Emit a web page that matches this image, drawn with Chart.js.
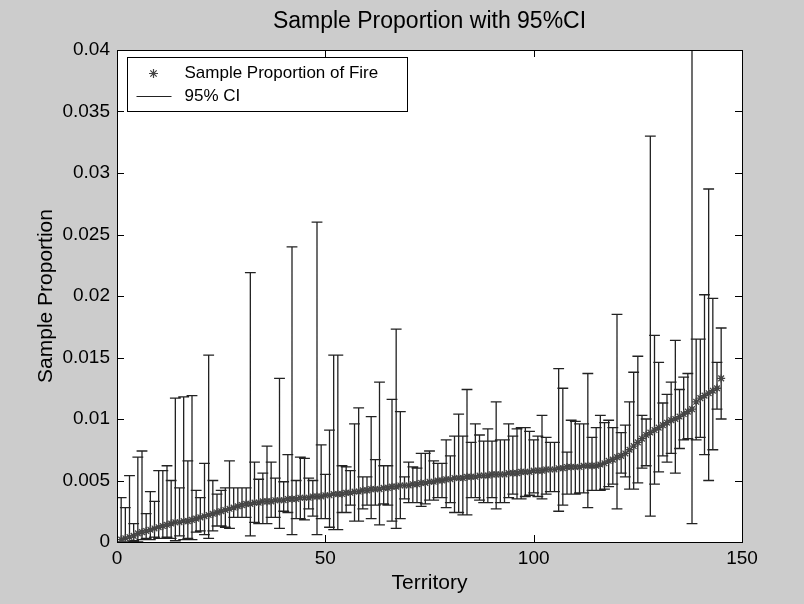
<!DOCTYPE html>
<html>
<head>
<meta charset="utf-8">
<title>Sample Proportion with 95%CI</title>
<script src="https://cdn.jsdelivr.net/npm/chart.js@4.4.1/dist/chart.umd.min.js"></script>
<style>
    html, body { margin: 0; padding: 0; background: #cccccc; }
    canvas { display: block; }
</style>
</head>
<body>
<canvas id="ciChart" width="804" height="604"></canvas>
<script>
"use strict"

// sample proportion of fire per territory (sorted)
const proportion = [
    0.0002, 0.0003, 0.0004, 0.0005, 0.0007, 0.0008, 0.0009, 0.0010, 0.0011, 0.0012,
    0.0013, 0.0014, 0.0015, 0.0016, 0.0016, 0.0017, 0.0017, 0.0018, 0.0019, 0.0020,
    0.0021, 0.0022, 0.0023, 0.0024, 0.0025, 0.0026, 0.0027, 0.0028, 0.0029, 0.0030,
    0.0031, 0.0031, 0.0032, 0.0032, 0.0033, 0.0033, 0.0033, 0.0034, 0.0034, 0.0034,
    0.0035, 0.0035, 0.0035, 0.0036, 0.0036, 0.0036, 0.0037, 0.0037, 0.0037, 0.0038,
    0.0038, 0.0039, 0.0039, 0.0039, 0.0040, 0.0040, 0.0041, 0.0041, 0.0042, 0.0042,
    0.0043, 0.0043, 0.0043, 0.0044, 0.0044, 0.0045, 0.0045, 0.0046, 0.0046, 0.0046,
    0.0047, 0.0047, 0.0048, 0.0048, 0.0049, 0.0049, 0.0050, 0.0050, 0.0051, 0.0051,
    0.0052, 0.0052, 0.0052, 0.0053, 0.0053, 0.0053, 0.0054, 0.0054, 0.0054, 0.0055,
    0.0055, 0.0055, 0.0055, 0.0056, 0.0056, 0.0056, 0.0057, 0.0057, 0.0057, 0.0058,
    0.0058, 0.0058, 0.0059, 0.0059, 0.0059, 0.0060, 0.0060, 0.0061, 0.0061, 0.0061,
    0.0061, 0.0062, 0.0062, 0.0062, 0.0062, 0.0063, 0.0064, 0.0066, 0.0067, 0.0069,
    0.0070, 0.0072, 0.0075, 0.0078, 0.0081, 0.0084, 0.0087, 0.0089, 0.0091, 0.0093,
    0.0095, 0.0097, 0.0099, 0.0100, 0.0102, 0.0104, 0.0106, 0.0108, 0.0114, 0.0117,
    0.0119, 0.0121, 0.0123, 0.0125, 0.0133
];

const ciLower = [
    0.0000, 0.0000, 0.0000, 0.0001, 0.0000, 0.0002, 0.0003, 0.0002, 0.0004, 0.0003,
    0.0003, 0.0004, 0.0003, 0.0001, 0.0005, 0.0002, 0.0003, 0.0002, 0.0008, 0.0009,
    0.0006, 0.0003, 0.0009, 0.0013, 0.0013, 0.0012, 0.0011, 0.0020, 0.0020, 0.0020,
    0.0020, 0.0005, 0.0016, 0.0015, 0.0015, 0.0015, 0.0020, 0.0020, 0.0011, 0.0025,
    0.0024, 0.0006, 0.0019, 0.0019, 0.0018, 0.0027, 0.0021, 0.0006, 0.0019, 0.0019,
    0.0012, 0.0010, 0.0010, 0.0024, 0.0024, 0.0030, 0.0017, 0.0017, 0.0027, 0.0030,
    0.0019, 0.0030, 0.0014, 0.0031, 0.0030, 0.0017, 0.0011, 0.0019, 0.0035, 0.0032,
    0.0032, 0.0032, 0.0029, 0.0031, 0.0034, 0.0034, 0.0036, 0.0036, 0.0028, 0.0032,
    0.0024, 0.0024, 0.0022, 0.0022, 0.0036, 0.0036, 0.0034, 0.0032, 0.0032, 0.0036,
    0.0027, 0.0032, 0.0032, 0.0036, 0.0039, 0.0035, 0.0035, 0.0037, 0.0038, 0.0040,
    0.0037, 0.0035, 0.0039, 0.0041, 0.0041, 0.0025, 0.0030, 0.0039, 0.0039, 0.0039,
    0.0040, 0.0040, 0.0028, 0.0042, 0.0042, 0.0042, 0.0043, 0.0045, 0.0047, 0.0027,
    0.0056, 0.0053, 0.0043, 0.0043, 0.0048, 0.0060, 0.0062, 0.0021, 0.0047, 0.0057,
    0.0070, 0.0065, 0.0072, 0.0056, 0.0076, 0.0083, 0.0084, 0.0015, 0.0083, 0.0085,
    0.0071, 0.0050, 0.0075, 0.0108, 0.0100
];

const ciUpper = [
    0.0036, 0.0028, 0.0054, 0.0015, 0.0069, 0.0074, 0.0023, 0.0041, 0.0033, 0.0058,
    0.0058, 0.0062, 0.0050, 0.0117, 0.0044, 0.0118, 0.0066, 0.0119, 0.0042, 0.0036,
    0.0064, 0.0152, 0.0050, 0.0039, 0.0042, 0.0044, 0.0066, 0.0044, 0.0044, 0.0044,
    0.0044, 0.0219, 0.0065, 0.0051, 0.0056, 0.0078, 0.0065, 0.0052, 0.0133, 0.0049,
    0.0071, 0.0240, 0.0050, 0.0069, 0.0068, 0.0052, 0.0050, 0.0260, 0.0079, 0.0055,
    0.0091, 0.0152, 0.0152, 0.0062, 0.0061, 0.0058, 0.0096, 0.0109, 0.0053, 0.0053,
    0.0102, 0.0067, 0.0130, 0.0062, 0.0062, 0.0116, 0.0173, 0.0106, 0.0053, 0.0065,
    0.0061, 0.0060, 0.0072, 0.0072, 0.0074, 0.0066, 0.0064, 0.0064, 0.0083, 0.0070,
    0.0086, 0.0104, 0.0086, 0.0124, 0.0081, 0.0096, 0.0087, 0.0082, 0.0092, 0.0082,
    0.0114, 0.0083, 0.0083, 0.0096, 0.0086, 0.0092, 0.0093, 0.0093, 0.0090, 0.0083,
    0.0086, 0.0103, 0.0085, 0.0081, 0.0081, 0.0141, 0.0125, 0.0073, 0.0099, 0.0098,
    0.0096, 0.0096, 0.0137, 0.0085, 0.0093, 0.0103, 0.0097, 0.0099, 0.0093, 0.0185,
    0.0089, 0.0095, 0.0114, 0.0138, 0.0151, 0.0103, 0.0100, 0.0330, 0.0168, 0.0146,
    0.0113, 0.0120, 0.0130, 0.0164, 0.0124, 0.0134, 0.0137, 0.0460, 0.0165, 0.0165,
    0.0201, 0.0287, 0.0198, 0.0146, 0.0174
];

const territories = proportion.map((p, k) => k + 1);
const xTicks = [0, 50, 100, 150];
const yTicks = [0, 0.005, 0.01, 0.015, 0.02, 0.025, 0.03, 0.035, 0.04];

const capHalf = 1.3;
const fontFamily = "'Liberation Sans', Arial, Helvetica, sans-serif";

// error bar segments, broken with null points
const ciSegments = [];
territories.forEach((t, k) => {
    ciSegments.push({x: t, y: ciLower[k]}, {x: t, y: ciUpper[k]}, {x: t, y: null});
    ciSegments.push({x: t - capHalf, y: ciUpper[k]}, {x: t + capHalf, y: ciUpper[k]}, {x: t, y: null});
    ciSegments.push({x: t - capHalf, y: ciLower[k]}, {x: t + capHalf, y: ciLower[k]}, {x: t, y: null});
});

const plotFrame = {
    id: "plotFrame",
    beforeDraw(chart) {
        const a = chart.chartArea;
        const ctx = chart.ctx;
        ctx.save();
        ctx.fillStyle = "#ffffff";
        ctx.fillRect(a.left, a.top, a.right - a.left, a.bottom - a.top);
        ctx.restore();
    },
    afterDatasetsDraw(chart) {
        const a = chart.chartArea;
        const ctx = chart.ctx;
        const xs = chart.scales.x;
        const ys = chart.scales.y;
        ctx.save();
        ctx.strokeStyle = "#000000";
        ctx.lineWidth = 1;
        ctx.beginPath();
        xTicks.forEach(v => {
            const px = Math.round(xs.getPixelForValue(v)) + 0.5;
            ctx.moveTo(px, a.bottom); ctx.lineTo(px, a.bottom - 7);
            ctx.moveTo(px, a.top); ctx.lineTo(px, a.top + 7);
        });
        yTicks.forEach(v => {
            const py = Math.round(ys.getPixelForValue(v)) + 0.5;
            ctx.moveTo(a.left, py); ctx.lineTo(a.left + 7, py);
            ctx.moveTo(a.right, py); ctx.lineTo(a.right - 7, py);
        });
        ctx.stroke();
        ctx.strokeRect(Math.round(a.left) + 0.5, Math.round(a.top) + 0.5,
            Math.round(a.right - a.left), Math.round(a.bottom - a.top));
        ctx.restore();
    },
    afterDraw(chart) {
        // legend box, top left inside the axes
        const a = chart.chartArea;
        const ctx = chart.ctx;
        const labels = chart.data.datasets.map(d => d.label);
        ctx.save();
        ctx.font = "17px " + fontFamily;
        const textW = Math.max(...labels.map(l => ctx.measureText(l).width));
        const bx = Math.round(a.left) + 10.5, by = Math.round(a.top) + 7.5;
        const bw = Math.round(textW) + 86, bh = 54;
        ctx.fillStyle = "#ffffff";
        ctx.fillRect(bx, by, bw, bh);
        ctx.strokeStyle = "#000000";
        ctx.lineWidth = 1;
        ctx.strokeRect(bx, by, bw, bh);

        ctx.strokeStyle = "#444444";
        ctx.lineWidth = 1.2;
        Chart.helpers.drawPoint(ctx, {pointStyle: "star", radius: 4.5, borderWidth: 1.2}, bx + 26, by + 16);
        ctx.strokeStyle = "#222222";
        ctx.lineWidth = 1.2;
        ctx.beginPath();
        ctx.moveTo(bx + 9, by + 39);
        ctx.lineTo(bx + 44, by + 39);
        ctx.stroke();

        ctx.fillStyle = "#000000";
        ctx.textBaseline = "middle";
        ctx.fillText(labels[0], bx + 57, by + 16);
        ctx.fillText(labels[1], bx + 57, by + 39);
        ctx.restore();
    }
};

const ciChart = new Chart(
    document.querySelector("#ciChart"),
    {
        type: "scatter",
        data: {
            datasets: [{
                label: "Sample Proportion of Fire",
                data: territories.map((t, k) => ({x: t, y: proportion[k]})),
                pointStyle: "star",
                pointRadius: 4,
                pointBorderWidth: 1.3,
                borderColor: "#444444",
                backgroundColor: "#444444",
                showLine: false,
                order: 0,
            }, {
                label: "95% CI",
                data: ciSegments,
                showLine: true,
                spanGaps: false,
                pointRadius: 0,
                borderColor: "#222222",
                borderWidth: 1.3,
                order: 1,
            }],
        },
        options: {
            responsive: false,
            animation: false,
            events: [],
            layout: {padding: {left: 0, right: 62, top: 0, bottom: 0}},
            plugins: {
                legend: {display: false},
                tooltip: {enabled: false},
                title: {
                    display: true,
                    text: "Sample Proportion with 95%CI",
                    fullSize: false,
                    color: "#000000",
                    font: {family: fontFamily, size: 23, weight: "normal", lineHeight: 1.2},
                    padding: {top: 8, bottom: 14.4},
                },
            },
            scales: {
                x: {
                    type: "linear",
                    min: 0,
                    max: 150,
                    afterFit(scale) { scale.height = 62; },
                    afterBuildTicks(scale) { scale.ticks = xTicks.map(v => ({value: v})); },
                    grid: {display: false, drawTicks: false},
                    border: {display: false},
                    ticks: {color: "#000000", padding: 5, font: {family: fontFamily, size: 19}},
                    title: {
                        display: true,
                        text: "Territory",
                        color: "#000000",
                        font: {family: fontFamily, size: 21},
                        padding: {top: 8, bottom: 8},
                    },
                },
                y: {
                    min: 0,
                    max: 0.04,
                    afterFit(scale) { scale.width = 117; },
                    afterBuildTicks(scale) { scale.ticks = yTicks.map(v => ({value: v})); },
                    grid: {display: false, drawTicks: false},
                    border: {display: false},
                    ticks: {
                        color: "#000000",
                        padding: 7,
                        font: {family: fontFamily, size: 19},
                        callback: v => String(+v.toFixed(3)),
                    },
                    title: {
                        display: true,
                        text: "Sample Proportion",
                        color: "#000000",
                        font: {family: fontFamily, size: 21},
                        padding: {top: 34, bottom: 34},
                    },
                },
            },
        },
        plugins: [plotFrame],
    }
);
</script>
</body>
</html>
